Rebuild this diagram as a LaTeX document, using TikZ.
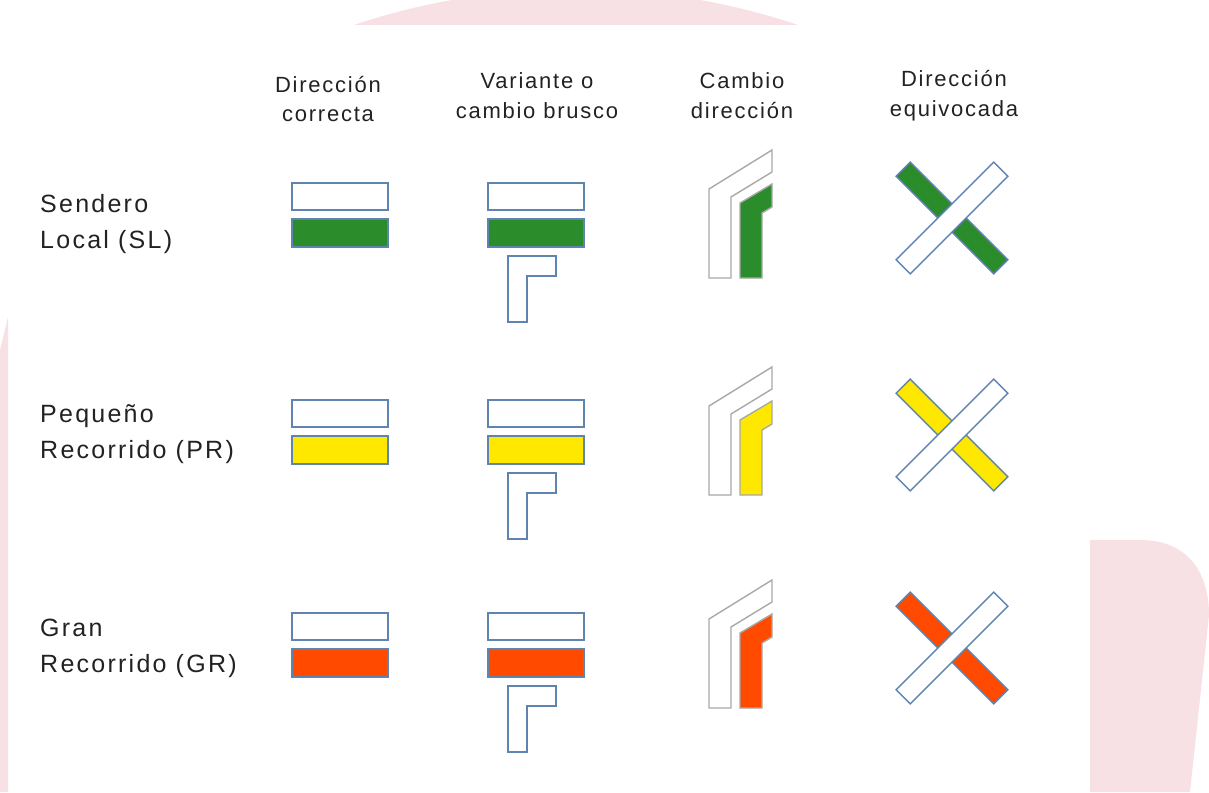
\documentclass[tikz,border=0pt]{standalone}
\usepackage{fontspec}
\setmainfont{Liberation Sans}
\newfontfamily\cabfont[LetterSpace=8]{Liberation Sans}
\newfontfamily\filafont[LetterSpace=9]{Liberation Sans}
\usetikzlibrary{positioning}
\definecolor{fondo}{RGB}{248,225,228}
\definecolor{verde}{RGB}{42,140,42}
\definecolor{amarillo}{RGB}{255,232,0}
\definecolor{rojo}{RGB}{255,74,0}
\definecolor{borde}{RGB}{96,132,176}
\definecolor{gris}{RGB}{168,168,168}
\definecolor{texto}{RGB}{34,34,34}

\begin{document}
\begin{tikzpicture}[x=1pt, y=-1pt]
		\tikzstyle{marca}=[draw=borde, line width=1.4pt]
		\tikzstyle{giro}=[draw=gris, line width=1.4pt]
		\tikzstyle{cabecera}=[align=center, inner sep=0pt, text=texto,
		  font=\cabfont\fontsize{22}{29.5}\selectfont]
		\tikzstyle{fila}=[anchor=west, align=left, inner sep=0pt, text=texto,
		  font=\filafont\fontsize{25}{36}\selectfont]
		\useasboundingbox (0,0) rectangle (1209,792);
		% fondo rosa
		\begin{scope}
		  \clip (0,0) rectangle (1209,25);
		  \fill[fondo] (576,689) circle[radius=700pt];
		\end{scope}
		\fill[fondo] (0,350) -- (8,317) -- (8,792) -- (0,792) -- cycle;
		\fill[fondo] (1090,540) -- (1140,540) .. controls (1190,540) and
		  (1209,575) .. (1209,615) -- (1190,792) -- (1090,792) -- cycle;
		% cabeceras
		\node[cabecera] (correcta) at (328,99) {Dirección\\correcta};
		\node[cabecera] (variante) at (537,95.5) {Variante o\\cambio brusco};
		\node[cabecera] (cambio) at (742,95.5) {Cambio\\dirección};
		\node[cabecera] (equivocada) at (954,95.5) {Dirección\\equivocada};
		% filas
		\node[fila] (sl) at (40,224.5) {Sendero\\Local (SL)};
		\node[fila] (pr) at (40,434.5) {Pequeño\\Recorrido (PR)};
		\node[fila] (gr) at (40,648.5) {Gran\\Recorrido (GR)};
		% marcas
		\foreach \dy/\col in {0/verde, 217/amarillo, 430/rojo}{
		  \begin{scope}[shift={(0,\dy)}]
		    \draw[marca, fill=white] (292,183) rectangle (388,210);
		    \draw[marca, fill=\col] (292,219) rectangle (388,247);
		    \draw[marca, fill=white] (488,183) rectangle (584,210);
		    \draw[marca, fill=\col] (488,219) rectangle (584,247);
		    \draw[marca] (508,256) -- (556,256) -- (556,276) -- (527,276)
		      -- (527,322) -- (508,322) -- cycle;
		    \draw[giro] (709,278) -- (709,189) -- (772,150) -- (772,172)
		      -- (731,197) -- (731,278) -- cycle;
		    \draw[giro, fill=\col] (740,278) -- (740,203) -- (772,184)
		      -- (772,207) -- (762,213) -- (762,278) -- cycle;
		    \draw[marca, fill=\col] [shift={(952,218)}, rotate=-45]
		      (-69,-10) rectangle (69,10);
		    \draw[marca, fill=white] [shift={(952,218)}, rotate=45]
		      (-69,-10) rectangle (69,10);
		  \end{scope}
		}
\end{tikzpicture}
\end{document}
